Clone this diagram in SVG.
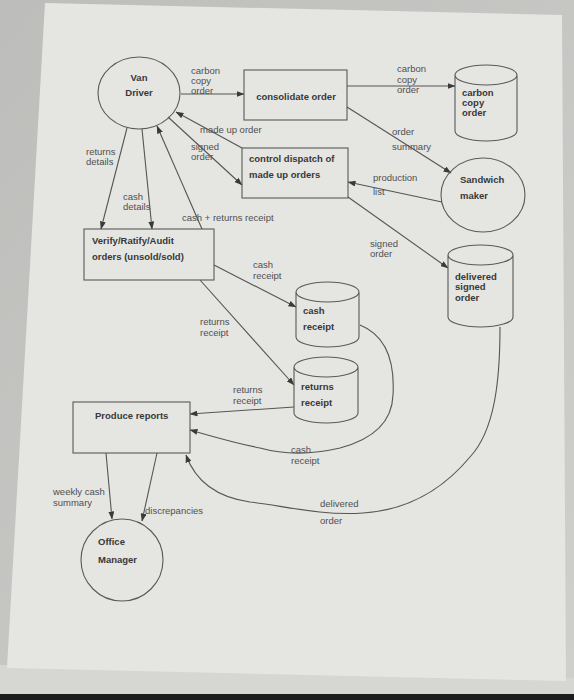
<svg xmlns="http://www.w3.org/2000/svg" width="574" height="700" viewBox="0 0 574 700">
<style>
.node{fill:none;stroke:#5a5a5a;stroke-width:1.1}
.lbl{font-family:"Liberation Sans",Arial,sans-serif;font-size:9.5px;fill:#505050}
.nt{font-family:"Liberation Sans",Arial,sans-serif;font-size:9.5px;font-weight:bold;fill:#383838}
.c{fill:none;stroke:#555;stroke-width:1.1;marker-end:url(#ah)}
</style>
<defs>
<marker id="ah" markerUnits="userSpaceOnUse" markerWidth="8" markerHeight="6" refX="7.5" refY="3" orient="auto">
<path d="M0,0 L8,3 L0,6 z" fill="#3a3a3a"/>
</marker>
<linearGradient id="bg" x1="0" y1="0" x2="1" y2="1">
<stop offset="0" stop-color="#bdbdbb"/>
<stop offset="1" stop-color="#cfcfcc"/>
</linearGradient>
</defs>
<rect x="0" y="0" width="574" height="700" fill="url(#bg)"/>
<polygon points="0,665 574,678 574,700 0,700" fill="#d6d6d3"/>
<rect x="0" y="694" width="574" height="6" fill="#1c1c20"/>
<polygon points="45,3 562,15 566,681 7,668" fill="#e5e5e2"/>

<g id="connectors">
<line class="c" x1="181" y1="94" x2="244" y2="94"/>
<line class="c" x1="347" y1="86" x2="455" y2="86"/>
<line class="c" x1="347" y1="107" x2="451" y2="173"/>
<line class="c" x1="442" y1="202" x2="348" y2="182"/>
<line class="c" x1="242" y1="148" x2="176" y2="112"/>
<line class="c" x1="168" y1="117" x2="242" y2="185"/>
<line class="c" x1="348" y1="197" x2="448" y2="268"/>
<line class="c" x1="127" y1="128" x2="101" y2="229"/>
<line class="c" x1="142" y1="129" x2="152" y2="229"/>
<line class="c" x1="202" y1="229" x2="157" y2="126"/>
<line class="c" x1="214" y1="265" x2="296" y2="307"/>
<line class="c" x1="200" y1="280" x2="294" y2="385"/>
<line class="c" x1="294" y1="407" x2="190" y2="414"/>
<path class="c" d="M360,325 C385,335 395,360 393,395 C392,425 370,440 340,448 C310,455 285,455 260,448 C230,442 205,434 190,430"/>
<path class="c" d="M500,327 C500,380 495,430 470,457 C445,487 410,510 363,513 C320,516 280,505 250,502 C215,497 195,480 186,455"/>
<line class="c" x1="106" y1="453" x2="112" y2="519"/>
<line class="c" x1="157" y1="453" x2="142" y2="521"/>
</g>

<g id="labels">
<text class="lbl" x="191" y="74">carbon</text>
<text class="lbl" x="191" y="84">copy</text>
<text class="lbl" x="191" y="94">order</text>
<text class="lbl" x="397" y="72">carbon</text>
<text class="lbl" x="397" y="83">copy</text>
<text class="lbl" x="397" y="93">order</text>
<text class="lbl" x="200" y="133">made up order</text>
<text class="lbl" x="191" y="150">signed</text>
<text class="lbl" x="191" y="160">order</text>
<text class="lbl" x="392" y="135">order</text>
<text class="lbl" x="392" y="150">summary</text>
<text class="lbl" x="373" y="181">production</text>
<text class="lbl" x="373" y="195">list</text>
<text class="lbl" x="370" y="247">signed</text>
<text class="lbl" x="370" y="257">order</text>
<text class="lbl" x="86" y="155">returns</text>
<text class="lbl" x="86" y="165">details</text>
<text class="lbl" x="123" y="200">cash</text>
<text class="lbl" x="123" y="210">details</text>
<text class="lbl" x="182" y="221">cash + returns receipt</text>
<text class="lbl" x="253" y="268">cash</text>
<text class="lbl" x="253" y="279">receipt</text>
<text class="lbl" x="200" y="325">returns</text>
<text class="lbl" x="200" y="336">receipt</text>
<text class="lbl" x="233" y="393">returns</text>
<text class="lbl" x="233" y="404">receipt</text>
<text class="lbl" x="291" y="453">cash</text>
<text class="lbl" x="291" y="464">receipt</text>
<text class="lbl" x="320" y="507">delivered</text>
<text class="lbl" x="320" y="524">order</text>
<text class="lbl" x="53" y="495">weekly cash</text>
<text class="lbl" x="53" y="506">summary</text>
<text class="lbl" x="145" y="514">discrepancies</text>
</g>

<g id="van-driver">
<ellipse class="node" cx="139" cy="93" rx="41" ry="36"/>
<text class="nt" x="139" y="81" text-anchor="middle">Van</text>
<text class="nt" x="139" y="96" text-anchor="middle">Driver</text>
</g>
<g id="consolidate-order">
<rect class="node" x="244" y="70" width="103" height="50"/>
<text class="nt" x="296" y="100" text-anchor="middle">consolidate order</text>
</g>
<g id="control-dispatch">
<rect class="node" x="242" y="148" width="106" height="50"/>
<text class="nt" x="249" y="162">control dispatch of</text>
<text class="nt" x="249" y="178">made up orders</text>
</g>
<g id="carbon-copy-store">
<path class="node" d="M455,75 A31,10 0 0 1 517,75 L517,131 A31,10 0 0 1 455,131 Z M455,75 A31,10 0 0 0 517,75"/>
<text class="nt" x="462" y="96">carbon</text>
<text class="nt" x="462" y="106">copy</text>
<text class="nt" x="462" y="116">order</text>
</g>
<g id="sandwich-maker">
<ellipse class="node" cx="483" cy="195" rx="42" ry="37"/>
<text class="nt" x="460" y="183">Sandwich</text>
<text class="nt" x="460" y="199">maker</text>
</g>
<g id="delivered-signed-order">
<path class="node" d="M448,255 A32.5,10 0 0 1 513,255 L513,317 A32.5,10 0 0 1 448,317 Z M448,255 A32.5,10 0 0 0 513,255"/>
<text class="nt" x="455" y="280">delivered</text>
<text class="nt" x="455" y="290">signed</text>
<text class="nt" x="455" y="301">order</text>
</g>
<g id="verify">
<rect class="node" x="84" y="229" width="130" height="51"/>
<text class="nt" x="92" y="244">Verify/Ratify/Audit</text>
<text class="nt" x="92" y="260">orders (unsold/sold)</text>
</g>
<g id="cash-receipt-store">
<path class="node" d="M296,292 A31.5,10 0 0 1 359,292 L359,337 A31.5,10 0 0 1 296,337 Z M296,292 A31.5,10 0 0 0 359,292"/>
<text class="nt" x="303" y="314">cash</text>
<text class="nt" x="303" y="330">receipt</text>
</g>
<g id="returns-receipt-store">
<path class="node" d="M294,367 A32,10 0 0 1 358,367 L358,413 A32,10 0 0 1 294,413 Z M294,367 A32,10 0 0 0 358,367"/>
<text class="nt" x="301" y="390">returns</text>
<text class="nt" x="301" y="406">receipt</text>
</g>
<g id="produce-reports">
<rect class="node" x="73" y="402" width="117" height="51"/>
<text class="nt" x="95" y="419">Produce reports</text>
</g>
<g id="office-manager">
<ellipse class="node" cx="122" cy="560" rx="41" ry="41"/>
<text class="nt" x="98" y="545">Office</text>
<text class="nt" x="98" y="563">Manager</text>
</g>
</svg>
